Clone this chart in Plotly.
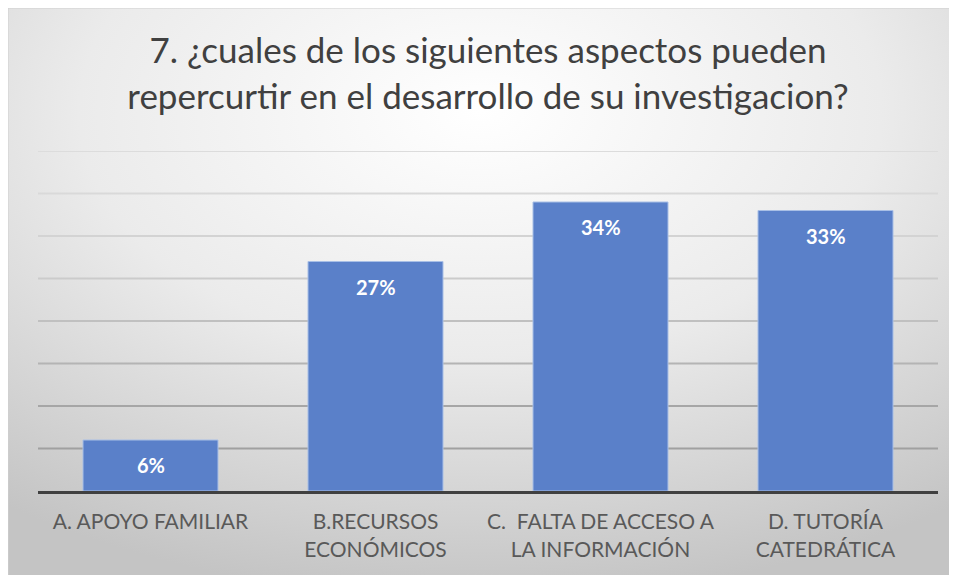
import base64
import plotly.graph_objects as go

# Data
categorias = [
    'A. APOYO FAMILIAR',
    'B.RECURSOS<br>ECONÓMICOS',
    'C.\u00a0 FALTA DE ACCESO A<br>LA INFORMACIÓN',
    'D. TUTORÍA<br>CATEDRÁTICA',
]
porcentajes = [0.06, 0.27, 0.34, 0.33]
grid_vals = [0.05, 0.10, 0.15, 0.20, 0.25, 0.30, 0.35, 0.40]
grid_colors = ['#a0a0a0', '#a6a6a6', '#b4b4b4', '#c0c0c0',
               '#cbcbcb', '#d3d3d3', '#d9d9d9', '#dcdcdc']

titulo = '7. ¿cuales de los siguientes aspectos pueden<br>repercurtir en el desarrollo de su investigacion?'

# page body has an 8px margin, so the figure is laid out 8px up/left
W, H = 957, 575
L, R, T, B = 30, 27, 143, 92
pw, ph = W - L - R, H - T - B

# Radial grey background like the Excel chart area
svg = (
    "<svg xmlns='http://www.w3.org/2000/svg' width='946' height='575' preserveAspectRatio='none'>"
    "<defs><radialGradient id='g' cx='50%' cy='18%' r='85%'>"
    "<stop offset='0' stop-color='#ffffff'/>"
    "<stop offset='0.5' stop-color='#ebebeb'/>"
    "<stop offset='1' stop-color='#c4c4c4'/>"
    "</radialGradient></defs>"
    "<rect width='946' height='575' fill='url(#g)'/></svg>"
)
bg_src = 'data:image/svg+xml;base64,' + base64.b64encode(svg.encode()).decode()

FONT = 'Lato, Carlito, sans-serif'

fig = go.Figure()

fig.add_trace(go.Bar(
    x=categorias,
    y=porcentajes,
    marker=dict(color='#5a80c9', line=dict(color='#a8bfe6', width=1)),
    width=0.6,
    hoverinfo='skip',
))

# data labels inside the top of each bar
for c, v in zip(categorias, porcentajes):
    fig.add_annotation(
        x=c, y=v, yshift=-25, text='<b>{:.0f}%</b>'.format(v * 100), showarrow=False,
        font=dict(family=FONT, size=20, color='white'),
    )

shapes = [dict(
    type='rect', xref='paper', yref='paper',
    x0=-L / pw, x1=(945 - L) / pw,
    y0=(H - B - 600) / ph, y1=(H - B) / ph,
    line=dict(color='#cfcfcf', width=1), fillcolor='rgba(0,0,0,0)', layer='below',
)]
# gridlines, darker toward the bottom
for v, col in zip(grid_vals, grid_colors):
    shapes.append(dict(
        type='line', xref='paper', yref='y', x0=0, x1=1, y0=v, y1=v,
        line=dict(color=col, width=2), layer='below',
    ))

fig.update_layout(
    width=W, height=H,
    margin=dict(l=L, r=R, t=T, b=B, autoexpand=False),
    paper_bgcolor='white',
    plot_bgcolor='rgba(0,0,0,0)',
    showlegend=False,
    font=dict(family=FONT, color='#595959'),
    title=dict(
        text=titulo, x=0.5, xref='paper', xanchor='center',
        y=(H - 55) / H, yref='container', yanchor='middle',
        font=dict(size=35, color='#404040'),
        automargin=False,
    ),
    images=[dict(
        source=bg_src, xref='paper', yref='paper',
        x=-L / pw, y=(H - B) / ph,
        sizex=945 / pw, sizey=575 / ph,
        xanchor='left', yanchor='top', sizing='stretch', layer='below',
    )],
    shapes=shapes,
    bargap=0.4,
)

fig.update_xaxes(
    showline=True, linecolor='#404040', linewidth=3, automargin=False,
    showgrid=False, ticks='', ticklabelstandoff=10,
    tickfont=dict(size=21, color='#595959'),
)
fig.update_yaxes(
    range=[0, 0.40], showgrid=False, zeroline=False, automargin=False,
    showticklabels=False, fixedrange=True,
)

fig.write_html('out.html')
